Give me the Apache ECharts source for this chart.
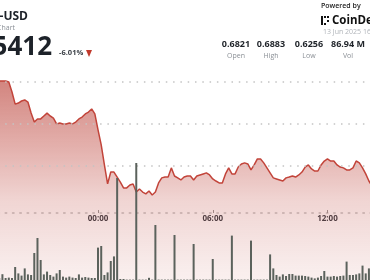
<!DOCTYPE html>
<html>
<head>
<meta charset="utf-8">
<script src="https://cdn.jsdelivr.net/npm/echarts@6/dist/echarts.min.js"></script>
<style>
html, body { margin: 0; padding: 0; background: #fff; }
#main { width: 370px; height: 280px; }
</style>
</head>
<body>
<div id="main"></div>
<script>
// time is in hours relative to 00:00 on 13 Jun, one point every 10 min from 18:50
var startHour = -31 / 6;
var stepHour = 1 / 6;

var prices = [
    0.6805, 0.6805, 0.6805, 0.6800, 0.6752, 0.6694, 0.6699, 0.6709, 0.6714, 0.6704,
    0.6651, 0.6608, 0.6623, 0.6623, 0.6637, 0.6651, 0.6637, 0.6627, 0.6599, 0.6603,
    0.6599, 0.6599, 0.6603, 0.6599, 0.6608, 0.6623, 0.6632, 0.6647, 0.6656, 0.6671,
    0.6647, 0.6570, 0.6498, 0.6402, 0.6311, 0.6368, 0.6368, 0.6344, 0.6320, 0.6292,
    0.6292, 0.6306, 0.6311, 0.6272, 0.6287, 0.6272, 0.6263, 0.6277, 0.6258, 0.6272,
    0.6316, 0.6340, 0.6344, 0.6344, 0.6388, 0.6349, 0.6340, 0.6330, 0.6344, 0.6349,
    0.6349, 0.6330, 0.6349, 0.6354, 0.6359, 0.6364, 0.6354, 0.6335, 0.6325, 0.6316,
    0.6316, 0.6359, 0.6388, 0.6359, 0.6359, 0.6392, 0.6407, 0.6412, 0.6407, 0.6378,
    0.6402, 0.6431, 0.6431, 0.6412, 0.6388, 0.6364, 0.6340, 0.6335, 0.6330, 0.6325,
    0.6340, 0.6344, 0.6349, 0.6344, 0.6354, 0.6368, 0.6392, 0.6402, 0.6383, 0.6373,
    0.6373, 0.6402, 0.6421, 0.6431, 0.6421, 0.6421, 0.6402, 0.6392, 0.6388, 0.6378,
    0.6378, 0.6388, 0.6421, 0.6412, 0.6388, 0.6359, 0.6325, 0.6301
];

// volume in millions, same 10 min buckets
var volumes = [
    0.10, 0.29, 0.10, 0.12, 0.10, 0.65, 0.33, 0.22, 0.58, 0.28,
    0.25, 1.35, 2.10, 1.00, 0.28, 0.42, 0.25, 0.17, 0.33, 0.50,
    0.17, 0.12, 0.17, 0.12, 0.10, 0.28, 0.12, 0.15, 0.12, 0.10,
    0.10, 1.62, 1.70, 0.25, 0.38, 0.95, 1.18, 5.10, 0.05, 0.05,
    0.02, 0.02, 0.02, 5.85, 0.02, 0.02, 0.02, 0.11, 0.02, 2.75,
    0.02, 0.02, 0.02, 0.02, 0.02, 2.25, 0.02, 0.02, 0.02, 0.02,
    0.02, 1.80, 0.02, 0.02, 0.02, 0.02, 0.02, 1.05, 0.02, 0.02,
    0.02, 0.02, 0.02, 2.22, 0.02, 0.02, 0.02, 0.02, 0.02, 1.97,
    0.02, 0.02, 0.02, 0.02, 0.02, 1.28, 0.58, 0.25, 0.17, 0.28,
    0.20, 0.30, 0.30, 0.22, 0.22, 0.22, 0.20, 0.17, 0.12, 0.08,
    0.12, 0.20, 0.45, 0.17, 0.17, 0.20, 0.17, 0.20, 0.22, 0.92,
    0.25, 0.25, 0.28, 0.33, 0.72, 0.33, 0.58, 0.25
];

var gridLevels = [0.64, 0.66, 0.68];
var statValues = ['0.6821', '0.6883', '0.6256', '86.94 M'];
var statLabels = ['Open', 'High', 'Low', 'Vol'];

var font = '"Open Sans", sans-serif';

var priceData = prices.map(function (p, i) { return [startHour + i * stepHour, p]; });
var volData = volumes.map(function (v, i) { return [startHour + i * stepHour, v]; });

var hourLabel = function (v) {
    var h = ((v % 24) + 24) % 24;
    return (h < 10 ? '0' : '') + h + ':00';
};

var statX = [236, 271, 309, 348];
var header = [
    { type: 'text', x: 28, y: 17, style: { text: 'ADA-USD', font: 'bold 12px ' + font, fill: '#1d2229', align: 'right', verticalAlign: 'middle' } },
    { type: 'text', x: 15, y: 28, style: { text: 'Price Chart', font: '7px ' + font, fill: '#8a8f96', align: 'right', verticalAlign: 'middle' } },
    { type: 'text', x: 52, y: 48, style: { text: '0.65412', font: 'bold 26px ' + font, fill: '#1d2229', align: 'right', verticalAlign: 'middle' } },
    { type: 'text', x: 59, y: 53, style: { text: '-6.01%', font: 'bold 7.5px ' + font, fill: '#3a3f46', verticalAlign: 'middle' } },
    { type: 'polygon', shape: { points: [[86, 50], [92, 50], [89, 57]] }, style: { fill: '#c0392b' } },
    { type: 'text', x: 321, y: 6, style: { text: 'Powered by', font: '600 7px ' + font, fill: '#222', verticalAlign: 'middle' } },
    { type: 'rect', shape: { x: 321, y: 16, width: 2, height: 9 }, style: { fill: '#111' } },
    { type: 'rect', shape: { x: 324, y: 16, width: 2, height: 2 }, style: { fill: '#111' } },
    { type: 'rect', shape: { x: 327, y: 16, width: 2, height: 2 }, style: { fill: '#111' } },
    { type: 'rect', shape: { x: 324, y: 23, width: 2, height: 2 }, style: { fill: '#111' } },
    { type: 'rect', shape: { x: 327, y: 20, width: 2, height: 2 }, style: { fill: '#111' } },
    { type: 'text', x: 332, y: 20.5, style: { text: 'CoinDesk', font: 'bold 11.5px ' + font, fill: '#111', verticalAlign: 'middle' } },
    { type: 'text', x: 323, y: 32, style: { text: '13 Jun 2025 16:30', font: '7px ' + font, fill: '#b0b4b9', verticalAlign: 'middle' } }
];
statValues.forEach(function (v, i) {
    header.push({ type: 'text', x: statX[i], y: 44, style: { text: v, font: 'bold 9px ' + font, fill: '#1f2329', align: 'center', verticalAlign: 'middle' } });
    header.push({ type: 'text', x: statX[i], y: 56, style: { text: statLabels[i], font: '7px ' + font, fill: '#8b9096', align: 'center', verticalAlign: 'middle' } });
});

var chart = echarts.init(document.getElementById('main'));
chart.setOption({
    animation: false,
    grid: [
        { left: -16.7, right: -72.2, top: 61.2, bottom: -10.4, outerBoundsMode: 'none' },
        { left: -16.7, right: -72.2, top: 80, bottom: 0, outerBoundsMode: 'none' }
    ],
    xAxis: [{
        type: 'value',
        gridIndex: 0,
        min: -6,
        max: 18,
        interval: 6,
        offset: -77.4,
        axisLine: { show: true, lineStyle: { color: '#c4c4c4', width: 1.5, type: [1.5, 5.8] } },
        axisTick: { show: true, inside: true, length: 3, lineStyle: { color: '#999' } },
        axisLabel: { margin: 2, fontSize: 8, fontWeight: 'bold', color: '#3a3f46', fontFamily: font, formatter: hourLabel },
        splitLine: { show: false }
    }, {
        type: 'value',
        gridIndex: 1,
        min: -6,
        max: 18,
        show: false
    }],
    yAxis: [{
        type: 'value',
        gridIndex: 0,
        min: 0.58,
        max: 0.69,
        show: false
    }, {
        type: 'value',
        gridIndex: 1,
        min: 0,
        max: 10,
        show: false
    }],
    series: [{
        name: 'Price',
        type: 'line',
        data: priceData,
        showSymbol: false,
        lineStyle: { color: '#c2443a', width: 1.5 },
        areaStyle: {
            color: new echarts.graphic.LinearGradient(0, 0, 0, 1, [
                { offset: 0, color: 'rgba(180,50,40,0.85)' },
                { offset: 0.33, color: 'rgba(185,55,45,0.55)' },
                { offset: 0.57, color: 'rgba(185,55,45,0.3)' },
                { offset: 0.9, color: 'rgba(185,55,45,0.13)' },
                { offset: 1, color: 'rgba(185,55,45,0.1)' }
            ])
        },
        markLine: {
            silent: true,
            symbol: ['none', 'none'],
            label: { show: false },
            lineStyle: { color: '#c4c4c4', width: 1.5, type: [1.5, 5.8] },
            data: gridLevels.map(function (v) { return { yAxis: v }; })
        }
    }, {
        name: 'Vol',
        type: 'bar',
        xAxisIndex: 1,
        yAxisIndex: 1,
        data: volData,
        barWidth: 2,
        z: 5,
        itemStyle: { color: '#5b625c' }
    }],
    graphic: header
});
</script>
</body>
</html>
